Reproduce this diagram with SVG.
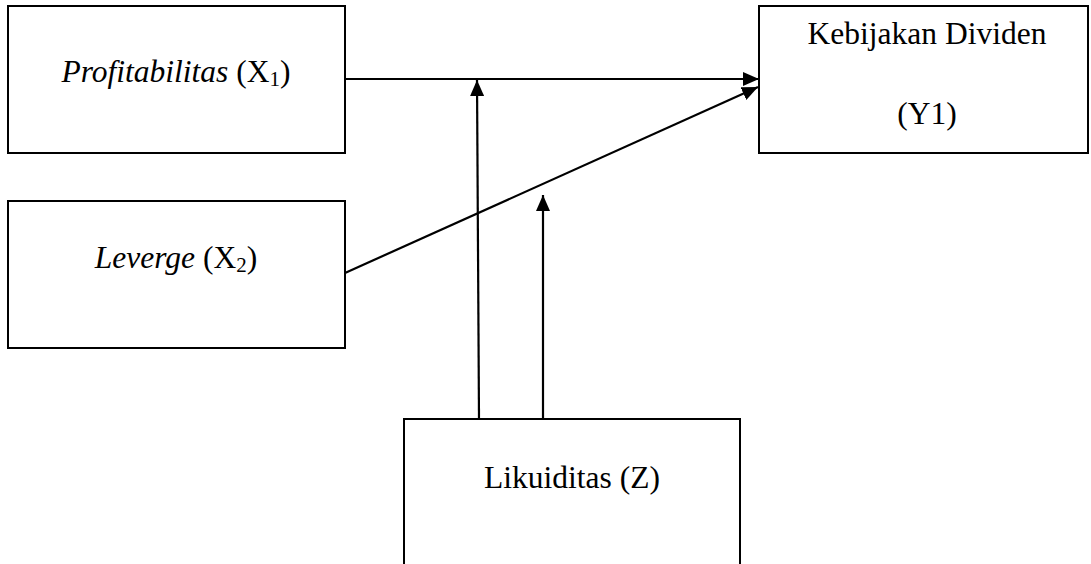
<svg xmlns="http://www.w3.org/2000/svg" width="1091" height="564" viewBox="0 0 1091 564">
<style>
.box{fill:#fff;stroke:#000;stroke-width:2}
.lbl{font-family:"Liberation Serif","Times New Roman",serif;font-size:31.5px;fill:#000;text-anchor:middle}
.it{font-style:italic}
.sub{font-size:21px}
.con{stroke:#000;stroke-width:2.2;fill:none;marker-end:url(#ah)}
</style>
<defs>
<marker id="ah" markerUnits="userSpaceOnUse" markerWidth="17" markerHeight="14" refX="16" refY="7" orient="auto">
<path d="M0,0 L16,7 L0,14 Z" fill="#000"/>
</marker>
</defs>
<g id="node-x1">
<rect class="box" x="8" y="6" width="337" height="147"/>
<text class="lbl" x="176" y="82"><tspan class="it">Profitabilitas</tspan> (X<tspan class="sub" dy="4">1</tspan><tspan dy="-4">)</tspan></text>
</g>
<g id="node-x2">
<rect class="box" x="8" y="201" width="337" height="147"/>
<text class="lbl" x="176" y="268"><tspan class="it">Leverge</tspan> (X<tspan class="sub" dy="4">2</tspan><tspan dy="-4">)</tspan></text>
</g>
<g id="node-y">
<rect class="box" x="759" y="6" width="329" height="147"/>
<text class="lbl" x="927" y="44">Kebijakan Dividen</text>
<text class="lbl" x="927" y="124">(Y1)</text>
</g>
<g id="node-z">
<path class="box" d="M404,570 L404,419 L740,419 L740,570"/>
<text class="lbl" x="572" y="488">Likuiditas (Z)</text>
</g>
<g id="connectors">
<line class="con" x1="345" y1="79" x2="759" y2="79"/>
<line class="con" x1="345" y1="273" x2="758" y2="87"/>
<line class="con" x1="479" y1="419" x2="477" y2="80"/>
<line class="con" x1="543" y1="419" x2="543" y2="195"/>
</g>
</svg>
